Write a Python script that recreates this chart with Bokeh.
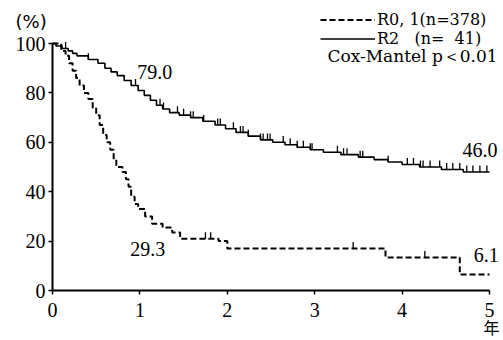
import numpy as np
from bokeh.plotting import figure
from bokeh.models import Range1d, Label, Legend, LegendItem, FixedTicker
from bokeh.embed import file_html
from bokeh.resources import INLINE

# ---- data ----
# R2 (n=41), solid line
r2_t = [0, 0.04, 0.11, 0.18, 0.23, 0.28, 0.41, 0.52, 0.60, 0.67, 0.74, 0.82, 0.90, 0.98,
        1.05, 1.12, 1.19, 1.26, 1.34, 1.45, 1.58, 1.72, 1.86, 1.98, 2.10, 2.24, 2.38,
        2.52, 2.66, 2.80, 2.95, 3.10, 3.30, 3.50, 3.68, 3.84, 4.00, 4.20, 4.45, 4.70, 5.00]
r2_s = [100, 99, 98, 97, 96, 95, 93.5, 92, 90, 88.5, 87, 85, 83, 81,
        79, 77, 75, 73.5, 72, 71, 70, 68.5, 67, 65.5, 64, 62.5, 61,
        60, 59, 58, 57, 56, 55, 54, 53, 52, 51, 50, 49, 48, 48]
r2_censor = [0.15, 0.41, 0.95, 1.23, 1.27, 1.43, 1.50, 1.58, 1.61, 1.73, 1.89, 1.92,
             2.07, 2.15, 2.18, 2.24, 2.38, 2.41, 2.46, 2.49, 2.64, 2.72, 2.80, 2.87,
             2.95, 2.97, 3.26, 3.33, 3.37, 3.52, 3.55, 3.84, 4.06, 4.13, 4.21, 4.24,
             4.32, 4.43, 4.51, 4.58, 4.66, 4.74, 4.81, 4.89, 4.97]

# R0,1 (n=378), dashed line
r01_t = [0, 0.10, 0.15, 0.19, 0.23, 0.27, 0.31, 0.36, 0.41, 0.46, 0.50, 0.54, 0.58,
         0.62, 0.66, 0.70, 0.73, 0.80, 0.84, 0.87, 0.90, 0.94, 0.98, 1.06, 1.14,
         1.26, 1.37, 1.46, 1.90, 2.00, 3.81, 4.66, 5.00]
r01_s = [100, 97, 95, 92, 89, 86, 83, 80, 77.5, 74, 71, 67, 63,
         60, 57, 53, 50, 48, 45, 42, 38, 35, 33, 30, 27,
         25.5, 23.5, 21, 20, 17, 13.4, 6.5, 6.5]
r01_censor = [1.75, 1.81, 3.44, 4.26]

series_labels = ["R0, 1(n=378)", "R2   (n=\u200741)"]

# value labels
labels_text = ["79.0", "29.3", "46.0", "6.1"]
labels_x = [0.97, 0.89, 4.69, 4.82]
labels_y = [88.3, 17.0, 56.7, 14.2]

x_ticks = [0, 1, 2, 3, 4, 5]
y_ticks = [0, 20, 40, 60, 80, 100]


def surv_at(ts, ss, t):
    ts = np.asarray(ts)
    ss = np.asarray(ss)
    idx = np.searchsorted(ts, t, side="right") - 1
    return ss[idx]


PX_X = 87.4  # pixels per year
PX_Y = 2.47  # pixels per percent
X0_PX, Y0_PX = 52, 290  # where the origin sits in the 503x340 canvas

p = figure(width=503, height=340,
           x_range=Range1d(-X0_PX / PX_X, (503 - X0_PX) / PX_X),
           y_range=Range1d(-(340 - Y0_PX) / PX_Y, Y0_PX / PX_Y),
           output_backend="svg", toolbar_location=None,
           min_border_left=0, min_border_right=0, min_border_top=0,
           min_border_bottom=0)
p.outline_line_color = None
p.xgrid.visible = False
p.ygrid.visible = False
p.background_fill_color = "white"

r_dash = p.step(r01_t, r01_s, mode="after", line_color="black", line_width=2,
                line_dash="6 3")
r_solid = p.step(r2_t, r2_s, mode="after", line_color="black", line_width=1.6)

c2 = np.array(r2_censor)
s2 = surv_at(r2_t, r2_s, c2)
p.segment(x0=c2, y0=s2, x1=c2, y1=s2 + 2.6, line_color="black", line_width=1.3)
c1 = np.array(r01_censor)
s1 = surv_at(r01_t, r01_s, c1)
p.segment(x0=c1, y0=s1, x1=c1, y1=s1 + 2.6, line_color="black", line_width=1.3)

for ax, ticks in ((p.xaxis, x_ticks), (p.yaxis, y_ticks)):
    ax.ticker = FixedTicker(ticks=ticks)
    ax.fixed_location = 0
    ax.axis_line_width = 2
    ax.axis_line_color = "black"
    ax.major_tick_line_color = "black"
    ax.major_tick_line_width = 1.5
    ax.major_tick_out = 4
    ax.major_tick_in = 0
    ax.minor_tick_line_color = None
    ax.major_label_text_font = "Liberation Serif"
    ax.major_label_text_font_size = "20px"
    ax.major_label_text_color = "black"
p.xaxis.bounds = (0, 5)
p.yaxis.bounds = (0, 100)
p.xaxis.major_label_standoff = 8
p.yaxis.major_label_standoff = 3

# one legend box per row so that the two rows can sit close together
for label, rend, loc_y in ((series_labels[0], r_dash, 311),
                           (series_labels[1], r_solid, 292)):
    lg = Legend(items=[LegendItem(label=label, renderers=[rend])],
                location=(320, loc_y), glyph_width=55, glyph_height=13,
                label_height=13, label_standoff=2, spacing=0, padding=0, margin=0,
                border_line_color=None, background_fill_alpha=0,
                label_text_font="DejaVu Serif", label_text_font_size="16px",
                label_text_color="black")
    p.add_layout(lg)

p.add_layout(Label(x=5.155, y=95.1, text="Cox-Mantel  p＜0.01", text_align="right",
                   text_baseline="middle", text_font="DejaVu Serif",
                   text_font_size="17px", text_color="black"))

for t, x, y in zip(labels_text, labels_x, labels_y):
    p.add_layout(Label(x=x, y=y, text=t, text_align="left", text_baseline="middle",
                       text_font="Liberation Serif", text_font_size="20px",
                       text_color="black"))

p.add_layout(Label(x=-0.423, y=108.9, text="(%)", text_align="left",
                   text_baseline="middle", text_font="DejaVu Sans",
                   text_font_size="18px", text_color="black"))
p.add_layout(Label(x=5.023, y=-14.6, text="年", text_align="center",
                   text_baseline="middle", text_font="Noto Sans CJK JP",
                   text_font_size="16px", text_color="black"))

open("out.html", "w").write(file_html(p, INLINE))
